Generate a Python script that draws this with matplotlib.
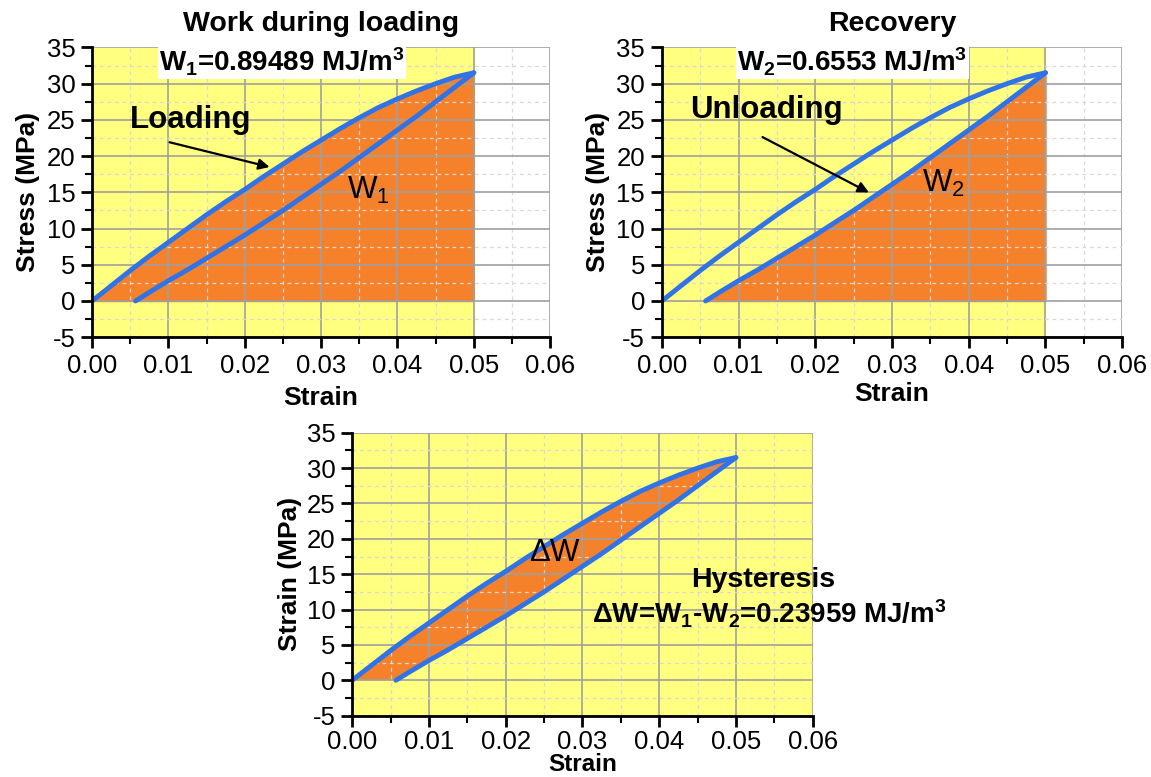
import numpy as np
import matplotlib.pyplot as plt
from matplotlib.ticker import MultipleLocator

plt.rcParams['font.family'] = ['Liberation Sans', 'DejaVu Sans']
plt.rcParams['axes.unicode_minus'] = False
plt.rcParams['mathtext.default'] = 'regular'

# stress-strain loop, read point by point
load_strain = [0.0, 0.0025, 0.005, 0.0075, 0.01, 0.0125, 0.015, 0.0175, 0.02, 0.0225,
               0.025, 0.0275, 0.03, 0.0325, 0.035, 0.0375, 0.04, 0.0425, 0.045, 0.0475, 0.05]
load_stress = [0.0, 2.1, 4.2, 6.2, 8.1, 10.0, 11.9, 13.7, 15.4, 17.2,
               18.9, 20.6, 22.2, 23.8, 25.3, 26.7, 27.9, 29.0, 30.0, 30.9, 31.5]
unload_strain = [0.0057, 0.0075, 0.01, 0.0125, 0.015, 0.0175, 0.02, 0.0225, 0.025, 0.0275,
                 0.03, 0.0325, 0.035, 0.0375, 0.04, 0.0425, 0.045, 0.0475, 0.05]
unload_stress = [0.0, 1.2, 2.8, 4.3, 5.9, 7.5, 9.1, 10.8, 12.5, 14.3,
                 16.1, 17.9, 19.8, 21.7, 23.6, 25.5, 27.5, 29.5, 31.5]

xticks = [0.00, 0.01, 0.02, 0.03, 0.04, 0.05, 0.06]
xtick_labels = ["0.00", "0.01", "0.02", "0.03", "0.04", "0.05", "0.06"]
yticks = [-5, 0, 5, 10, 15, 20, 25, 30, 35]

titles = ["Work during loading", "Recovery", ""]
ylabels = ["Stress (MPa)", "Stress (MPa)", "Strain (MPa)"]

YELLOW = "#ffff80"
ORANGE = "#f5822a"
BLUE = "#2f73e6"

fig = plt.figure(figsize=(11.51, 7.77), dpi=100)
ax1 = fig.add_axes([0.080, 0.566, 0.398, 0.373])
ax2 = fig.add_axes([0.575, 0.566, 0.400, 0.373])
ax3 = fig.add_axes([0.306, 0.079, 0.400, 0.364])
axes = [ax1, ax2, ax3]


def style(ax, title, ylabel, yellow_to, xlab_y, ylab_x, xlab_size=19, tick_pad=4):
    ax.set_xlim(0, 0.06)
    ax.set_ylim(-5, 35)
    ax.axvspan(0, yellow_to, color=YELLOW, zorder=0)
    ax.set_xticks(xticks)
    ax.set_xticklabels(xtick_labels)
    ax.set_yticks(yticks)
    ax.xaxis.set_minor_locator(MultipleLocator(0.005))
    ax.yaxis.set_minor_locator(MultipleLocator(2.5))
    ax.grid(True, which='major', color='#a0a0a0', lw=1.2, zorder=1)
    ax.grid(True, which='minor', color='#d8d8d8', lw=0.9, ls=(0, (3, 3)), zorder=1)
    ax.set_axisbelow(False)
    for s in ['top', 'right']:
        ax.spines[s].set_visible(False)
    for s in ['left', 'bottom']:
        ax.spines[s].set_linewidth(2)
        ax.spines[s].set_zorder(5)
    ax.tick_params(which='major', direction='out', length=8, width=2, labelsize=18.5, pad=4)
    ax.tick_params(axis='x', which='major', pad=tick_pad)
    ax.tick_params(which='minor', direction='out', length=5, width=1.5)
    ax.set_xlabel("Strain", fontsize=xlab_size, fontweight='bold', va='center')
    ax.set_ylabel(ylabel, fontsize=19, fontweight='bold')
    ax.xaxis.set_label_coords(0.5, xlab_y)
    ax.yaxis.set_label_coords(ylab_x, 0.5)
    if title:
        ax.set_title(title, fontsize=20.5, fontweight='bold', pad=12)


style(ax1, titles[0], ylabels[0], 0.05, -0.21, -0.113)
style(ax2, titles[1], ylabels[1], 0.05, -0.197, -0.113)
style(ax3, titles[2], ylabels[2], 0.06, -0.172, -0.109, xlab_size=17.5, tick_pad=2)

# W1: area under the loading branch
ax1.fill_between(load_strain, 0, load_stress, color=ORANGE, zorder=0.5)
# W2: area under the unloading branch
ax2.fill_between(unload_strain, 0, unload_stress, color=ORANGE, zorder=0.5)
# dW: area between the branches
hx = np.concatenate([load_strain, unload_strain[::-1], [0.0]])
hy = np.concatenate([load_stress, unload_stress[::-1], [0.0]])
ax3.fill(hx, hy, color=ORANGE, zorder=0.5, lw=0)

for ax in axes:
    ax.plot(load_strain, load_stress, color=BLUE, lw=3.5, zorder=3, solid_capstyle='round')
    ax.plot(unload_strain, unload_stress, color=BLUE, lw=3.5, zorder=3, solid_capstyle='round')

box = dict(facecolor='white', edgecolor='none', pad=1)
ax1.text(0.0249, 33.0, r"W$_1$=0.89489 MJ/m$^3$", fontsize=20, fontweight='bold',
         ha='center', va='center', bbox=box, zorder=6)
ax2.text(0.0248, 33.0, r"W$_2$=0.6553 MJ/m$^3$", fontsize=20, fontweight='bold',
         ha='center', va='center', bbox=box, zorder=6)

arrow = dict(arrowstyle='-|>', color='black', lw=1.6, mutation_scale=16)

ax1.text(0.005, 25.0, "Loading", fontsize=22.5, fontweight='bold', ha='left', va='center', zorder=6)
ax1.annotate("", xy=(0.0236, 18.4), xytext=(0.0098, 22.0), arrowprops=arrow, zorder=6)
ax1.text(0.0362, 15.3, r"W$_1$", fontsize=22.5, ha='center', va='center', zorder=6)

ax2.text(0.0037, 26.3, "Unloading", fontsize=22.5, fontweight='bold', ha='left', va='center', zorder=6)
ax2.annotate("", xy=(0.0273, 14.8), xytext=(0.0128, 22.8), arrowprops=arrow, zorder=6)
ax2.text(0.0367, 16.2, r"W$_2$", fontsize=22.5, ha='center', va='center', zorder=6)

ax3.text(0.0264, 18.0, "ΔW", fontsize=22.5, ha='center', va='center', zorder=6)
ax3.text(0.0535, 14.2, "Hysteresis", fontsize=20.5, fontweight='bold', ha='center', va='center', zorder=6)
ax3.text(0.0544, 9.4, r"ΔW=W$_1$-W$_2$=0.23959 MJ/m$^3$", fontsize=20, fontweight='bold',
         ha='center', va='center', zorder=6, clip_on=False)

fig.savefig("out.png", dpi=100, facecolor='white')
